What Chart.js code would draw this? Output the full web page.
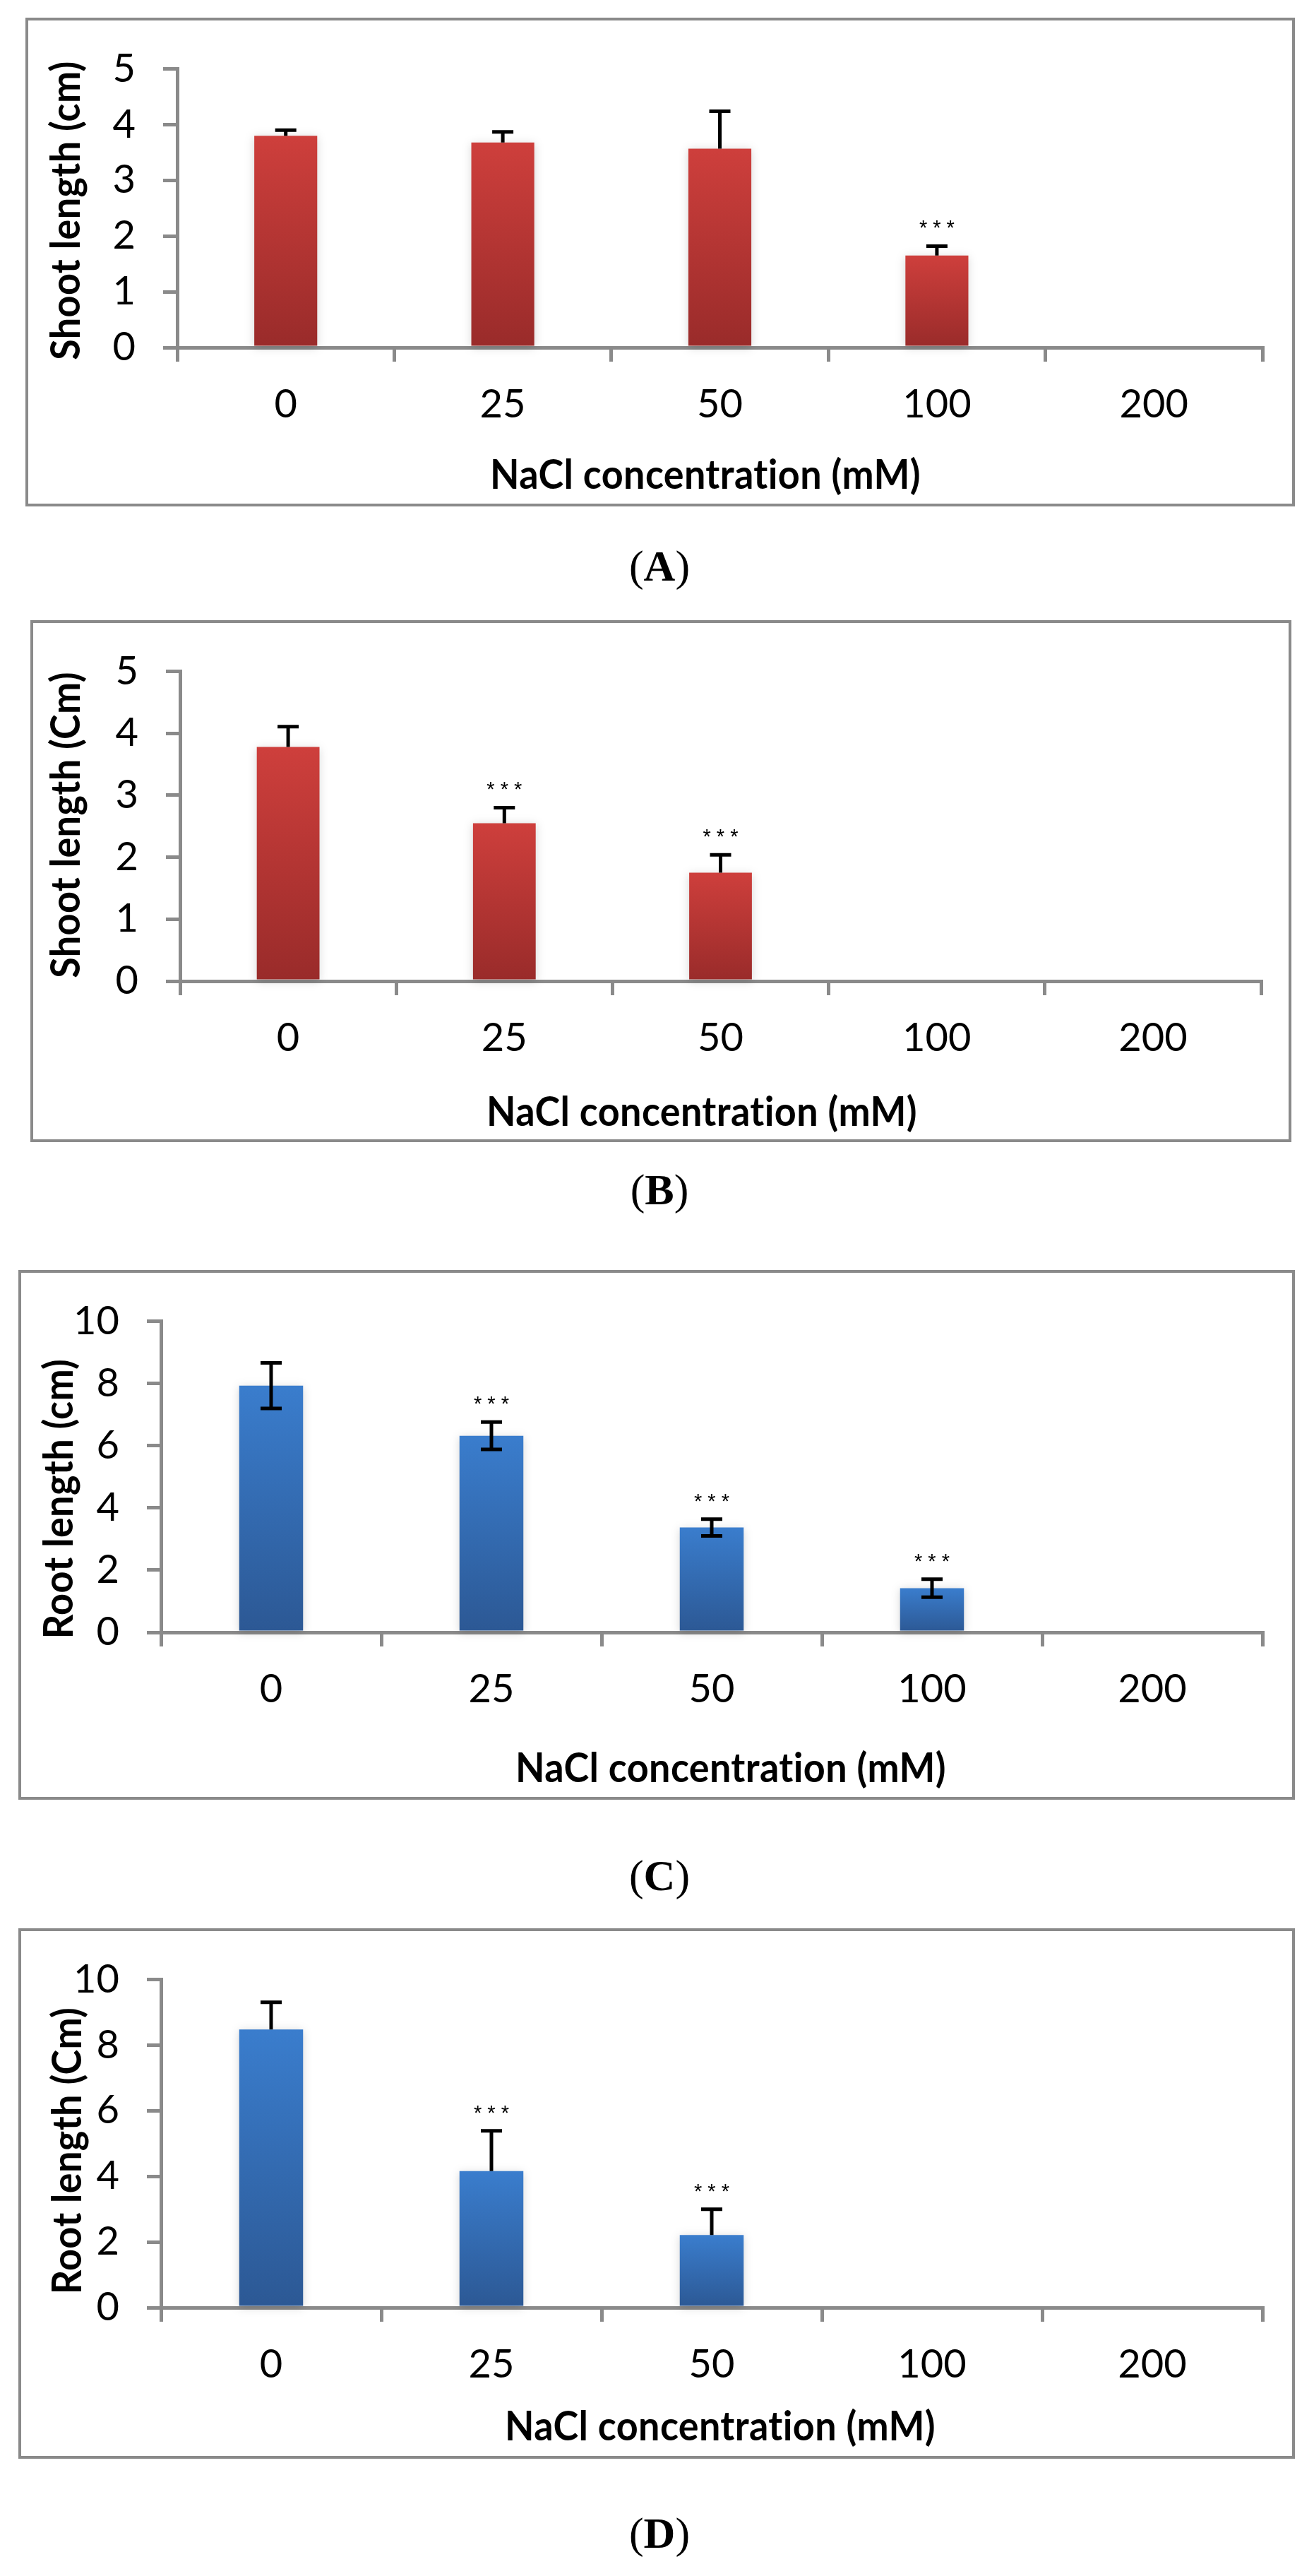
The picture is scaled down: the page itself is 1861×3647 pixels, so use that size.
<!DOCTYPE html>
<html>
<head>
<meta charset="utf-8">
<title>NaCl concentration — shoot and root length</title>
<script src="https://cdn.jsdelivr.net/npm/chart.js@4.4.1/dist/chart.umd.min.js"></script>
<style>
  body { margin: 0; background: #fff; width: 1861px; height: 3647px; position: relative; overflow: hidden; }
  .box { position: absolute; border: 4px solid #8a8a8a; box-sizing: border-box; }
  .wrap { position: absolute; left: 0; width: 1861px; }
  .cap { position: absolute; left: 0; width: 1868px; text-align: center; font-family: "Liberation Serif", "DejaVu Serif", serif; font-size: 62px; line-height: 1; color: #000; }
</style>
</head>
<body>
<script>
// categories (NaCl, mM)
const categories = ['0', '25', '50', '100', '200'];

// (A) shoot length (cm)
const shootA = [3.80, 3.68, 3.57, 1.65, 0];
const shootAErr = [0.10, 0.19, 0.67, 0.17, 0];
const shootAStars = ['', '', '', '***', ''];

// (B) shoot length (Cm)
const shootB = [3.78, 2.55, 1.75, 0, 0];
const shootBErr = [0.33, 0.25, 0.29, 0, 0];
const shootBStars = ['', '***', '***', '', ''];

// (C) root length (cm)
const rootC = [7.93, 6.32, 3.37, 1.42, 0];
const rootCErr = [0.73, 0.44, 0.27, 0.29, 0];
const rootCStars = ['', '***', '***', '***', ''];

// (D) root length (Cm)
const rootD = [8.48, 4.16, 2.21, 0, 0];
const rootDErr = [0.83, 1.23, 0.79, 0, 0];
const rootDStars = ['', '***', '***', '', ''];

const shootTicks = [0, 1, 2, 3, 4, 5];
const rootTicks = [0, 2, 4, 6, 8, 10];

const X_TITLE = 'NaCl concentration (mM)';

const AXIS = '#8a8a8a';
const RED = ['#ce3f3c', '#992b2a'];
const BLUE = ['#3a7dcd', '#2c5894'];
const TICK_FONT = { family: 'Lato', size: 56 };
const TITLE_FONT = 'bold 58px Lato';
const TITLE_SQUEEZE = 0.93;

// layout in page pixels: box = [left, top, right, bottom], area = [left, top, right, bottom]
const panels = [
  { key: 'A', means: shootA, errors: shootAErr, stars: shootAStars, ticks: shootTicks, colors: RED, twoSided: false,
    yTitle: 'Shoot length (cm)', box: [36, 25, 1834, 717], area: [251, 65, 1788, 492],
    xTitlePos: [999, 673], yTitlePos: [94, 298], capBase: 822 },
  { key: 'B', means: shootB, errors: shootBErr, stars: shootBStars, ticks: shootTicks, colors: RED, twoSided: false,
    yTitle: 'Shoot length (Cm)', box: [43, 878, 1829, 1617], area: [255, 916, 1786, 1389],
    xTitlePos: [994, 1575], yTitlePos: [94, 1168], capBase: 1705 },
  { key: 'C', means: rootC, errors: rootCErr, stars: rootCStars, ticks: rootTicks, colors: BLUE, twoSided: true,
    yTitle: 'Root length (cm)', box: [26, 1798, 1834, 2548], area: [228, 1842, 1788, 2311],
    xTitlePos: [1035, 2504], yTitlePos: [84, 2122], capBase: 2676 },
  { key: 'D', means: rootD, errors: rootDErr, stars: rootDStars, ticks: rootTicks, colors: BLUE, twoSided: false,
    yTitle: 'Root length (Cm)', box: [26, 2730, 1834, 3481], area: [228, 2768, 1788, 3267],
    xTitlePos: [1020, 3436], yTitlePos: [96, 3045], capBase: 3607 }
];

function barFill(ctx, colors) {
  const chart = ctx.chart;
  if (!chart.chartArea || !ctx.parsed) return colors[0];
  const y = chart.scales.y;
  const top = y.getPixelForValue(ctx.parsed.y);
  const base = y.getPixelForValue(0);
  if (base - top < 1) return colors[1];
  const g = chart.ctx.createLinearGradient(0, top, 0, base);
  g.addColorStop(0, colors[0]);
  g.addColorStop(1, colors[1]);
  return g;
}

// plain glyphs, no "ti" ligature
function titleText(c) {
  c.fillStyle = '#000';
  c.font = TITLE_FONT;
  c.textAlign = 'center';
  c.textBaseline = 'middle';
  if ('textRendering' in c) c.textRendering = 'optimizeSpeed';
  if ('letterSpacing' in c) c.letterSpacing = '0.4px';
}

function extras(p) {
  return {
    id: 'extras' + p.key,
    beforeDatasetsDraw(chart) {
      const c = chart.ctx;
      c.save();
      c.shadowColor = 'rgba(0,0,0,0.17)';
      c.shadowBlur = 12;
      c.shadowOffsetY = 2;
    },
    afterDatasetsDraw(chart) {
      const c = chart.ctx;
      c.restore();
      const meta = chart.getDatasetMeta(0);
      const y = chart.scales.y;
      c.save();
      c.strokeStyle = '#000';
      c.fillStyle = '#000';
      c.lineWidth = 5;
      p.means.forEach((m, i) => {
        const e = p.errors[i];
        if (!e) return;
        const x = meta.data[i].x;
        const yTop = y.getPixelForValue(m + e);
        const yBot = y.getPixelForValue(p.twoSided ? m - e : m);
        c.beginPath();
        c.moveTo(x, yBot);
        c.lineTo(x, yTop);
        c.moveTo(x - 15, yTop);
        c.lineTo(x + 15, yTop);
        if (p.twoSided) {
          c.moveTo(x - 15, yBot);
          c.lineTo(x + 15, yBot);
        }
        c.stroke();
        if (p.stars[i]) {
          c.font = '29px "Liberation Sans"';
          c.textAlign = 'center';
          c.textBaseline = 'middle';
          c.fillText(p.stars[i].split('').join(' '), x, yTop - 24);
        }
      });
      c.restore();
    },
    afterDraw(chart) {
      const c = chart.ctx;
      const top = p.box[1];
      c.save();
      titleText(c);
      c.translate(p.xTitlePos[0], p.xTitlePos[1] - top);
      c.scale(TITLE_SQUEEZE, 1);
      c.fillText(X_TITLE, 0, 0);
      c.restore();
      c.save();
      titleText(c);
      c.translate(p.yTitlePos[0], p.yTitlePos[1] - top);
      c.rotate(-Math.PI / 2);
      c.scale(TITLE_SQUEEZE, 1);
      c.fillText(p.yTitle, 0, 0);
      c.restore();
    }
  };
}

function makePanel(p) {
  const box = document.createElement('div');
  box.className = 'box';
  box.style.left = p.box[0] + 'px';
  box.style.top = p.box[1] + 'px';
  box.style.width = (p.box[2] - p.box[0]) + 'px';
  box.style.height = (p.box[3] - p.box[1]) + 'px';
  document.body.appendChild(box);

  const wrap = document.createElement('div');
  wrap.className = 'wrap';
  wrap.style.top = p.box[1] + 'px';
  wrap.style.height = (p.box[3] - p.box[1]) + 'px';
  const canvas = document.createElement('canvas');
  wrap.appendChild(canvas);
  document.body.appendChild(wrap);

  const cap = document.createElement('div');
  cap.className = 'cap';
  cap.style.top = (p.capBase - 52) + 'px';
  cap.innerHTML = '(<b>' + p.key + '</b>)';
  document.body.appendChild(cap);

  const yMax = p.ticks[p.ticks.length - 1];
  new Chart(canvas, {
    type: 'bar',
    data: {
      labels: categories,
      datasets: [{
        data: p.means,
        backgroundColor: ctx => barFill(ctx, p.colors),
        borderWidth: 0,
        barPercentage: 0.29,
        categoryPercentage: 1,
        clip: false
      }]
    },
    options: {
      responsive: true,
      maintainAspectRatio: false,
      animation: false,
      layout: { padding: { left: 0, top: p.area[1] - p.box[1], right: 1861 - p.area[2], bottom: 0 } },
      plugins: { legend: { display: false }, tooltip: { enabled: false } },
      scales: {
        x: {
          z: 1,
          grid: { offset: true, drawOnChartArea: false, drawTicks: true, tickLength: 20, color: AXIS, lineWidth: 5 },
          border: { color: AXIS, width: 5 },
          ticks: { color: '#000', font: TICK_FONT, padding: 27 },
          afterFit: s => { s.height = p.box[3] - p.area[3]; }
        },
        y: {
          min: 0,
          max: yMax,
          afterBuildTicks: s => { s.ticks = p.ticks.map(v => ({ value: v })); },
          grid: { drawOnChartArea: false, drawTicks: true, tickLength: 20, color: AXIS, lineWidth: 5 },
          border: { color: AXIS, width: 5 },
          ticks: { color: '#000', font: TICK_FONT, padding: 39 },
          afterFit: s => { s.width = p.area[0]; }
        }
      }
    },
    plugins: [extras(p)]
  });
}

const fontsReady = document.fonts
  ? Promise.all([document.fonts.load('56px Lato'), document.fonts.load(TITLE_FONT)]).catch(() => null)
  : Promise.resolve();
fontsReady.then(() => panels.forEach(makePanel));
</script>
</body>
</html>
